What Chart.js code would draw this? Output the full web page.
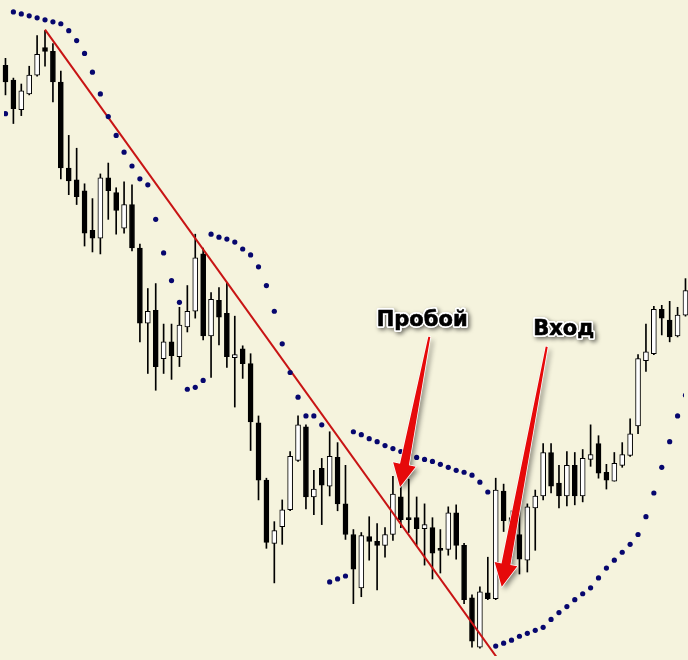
<!DOCTYPE html>
<html lang="ru">
<head>
<meta charset="utf-8">
<title>Пробой и вход</title>
<script src="https://cdn.jsdelivr.net/npm/chart.js@4.4.1/dist/chart.umd.min.js"></script>
<style>
  html, body { margin:0; padding:0; background:#f5f3dd; }
  #wrap { width:688px; height:660px; position:relative; }
</style>
</head>
<body>
<div id="wrap"><canvas id="chart"></canvas></div>
<script>
// candles, one per bar index (price in points)
const opens  = [598,583,553,569,588,616,612,581,494,482,471,431,423,484,469,433,457,413,337,350,301,318,303,333,349,407,324,360,347,302,311,296,236,178,114,131,148,198,232,161,190,172,201,154,123,69,121,116,112,123,161,140,140,129,130,109,108,145,112,59,9,64,58,167,140,123,97,150,162,206,175,162,193,162,199,215,186,177,193,203,233,299,306,351,340,324,345];
const highs  = [605,585,579,597,628,633,620,592,527,514,478,463,488,499,474,480,477,417,372,377,336,336,353,375,427,413,368,373,378,344,314,306,243,180,136,158,207,243,234,188,200,227,216,193,128,125,141,134,130,182,178,179,161,154,140,128,151,153,114,62,70,100,180,174,147,152,154,168,215,215,193,207,206,209,234,223,194,206,216,240,305,336,354,355,359,353,382];
const lows   = [568,539,547,568,587,597,561,483,467,457,415,409,407,442,427,428,410,318,286,269,286,280,293,328,342,320,282,315,292,252,281,208,158,109,74,113,147,197,149,143,133,162,147,118,53,60,97,67,100,117,130,125,112,92,78,84,102,98,53,9,8,57,57,126,100,83,85,107,158,165,150,152,153,156,192,180,169,177,191,202,225,288,305,325,318,323,344];
const closes = [581,554,572,588,609,612,581,494,481,465,428,423,484,471,451,457,413,337,349,293,318,304,335,349,403,324,361,343,303,305,296,237,178,115,127,148,202,234,161,169,173,202,154,123,88,122,116,112,123,164,138,138,129,133,104,107,145,112,57,15,65,58,168,137,115,98,151,162,206,172,162,193,162,200,204,185,178,195,204,225,301,308,351,342,323,345,370];

// parabolic SAR value per bar
const sar = [549,652,650,648,646,644,642,640,633,623,610,591,569,546,527,510,496,483,477,442,408,380,358,270,272,279,427,424,422,419,412,406,394,375,349,316,287,262,243,243,234,75,78,81,227,224,220,217,213,210,207,204,201,199,197,194,191,188,186,183,176,166,10,13,16,20,23,26,29,37,44,50,57,63,69,79,89,97,105,113,123,141,165,191,217,243,264];

// trendline anchors (bar index, price)
const trendX = [5, 63];
const trendY = [634, -11];

// annotations
const noteText  = ['Пробой', 'Вход'];
const noteX     = [52.7, 70.6];
const noteY     = [340, 330];
const arrowFromX = [53.6, 68.45];
const arrowFromY = [323, 313];
const arrowToX   = [49.9, 62.76];
const arrowToY   = [171, 70];

const BG = '#f5f3dd';
const SAR_COLOR = '#06066e';
const TREND_COLOR = '#c81414';
const LABEL_FONT = 'bold 21px "DejaVu Sans", Verdana, sans-serif';

const idx = opens.map((_, i) => i);
const bull = idx.map(i => closes[i] >= opens[i]);

function drawArrow(ctx, x0, y0, x1, y1){
  const dx = x1 - x0, dy = y1 - y0, len = Math.hypot(dx, dy);
  const ux = dx/len, uy = dy/len, nx = -uy, ny = ux;
  const headLen = 23, headW = 11.5, neckW = 4.5, tailW = 1;
  const bx = x1 - ux*headLen, by = y1 - uy*headLen;
  const pts = [
    [x0 + nx*tailW, y0 + ny*tailW],
    [bx + nx*neckW, by + ny*neckW],
    [bx + nx*headW, by + ny*headW],
    [x1, y1],
    [bx - nx*headW, by - ny*headW],
    [bx - nx*neckW, by - ny*neckW],
    [x0 - nx*tailW, y0 - ny*tailW]
  ];
  const path = () => {
    ctx.beginPath();
    pts.forEach((p, k) => k ? ctx.lineTo(p[0], p[1]) : ctx.moveTo(p[0], p[1]));
    ctx.closePath();
  };
  ctx.save();
  ctx.shadowColor = 'rgba(0,0,0,0.45)';
  ctx.shadowBlur = 5;
  ctx.shadowOffsetX = 3;
  ctx.shadowOffsetY = 3;
  path();
  ctx.fillStyle = '#e60a0a';
  ctx.fill();
  ctx.restore();
  ctx.save();
  path();
  ctx.lineJoin = 'round';
  ctx.lineWidth = 1.5;
  ctx.strokeStyle = '#ffffff';
  ctx.stroke();
  path();
  ctx.fillStyle = '#e60a0a';
  ctx.fill();
  ctx.restore();
}

function drawLabel(ctx, text, x, y){
  ctx.save();
  ctx.font = LABEL_FONT;
  ctx.textAlign = 'center';
  ctx.textBaseline = 'middle';
  ctx.lineJoin = 'round';
  // soft shadow under the white rim
  ctx.shadowColor = 'rgba(0,0,0,0.55)';
  ctx.shadowBlur = 4;
  ctx.shadowOffsetX = 2;
  ctx.shadowOffsetY = 2;
  ctx.lineWidth = 4;
  ctx.strokeStyle = '#ffffff';
  ctx.strokeText(text, x, y);
  ctx.restore();
  ctx.save();
  ctx.font = LABEL_FONT;
  ctx.textAlign = 'center';
  ctx.textBaseline = 'middle';
  ctx.lineJoin = 'round';
  ctx.lineWidth = 3.5;
  ctx.strokeStyle = '#ffffff';
  ctx.strokeText(text, x, y);
  ctx.fillStyle = '#000000';
  ctx.fillText(text, x, y);
  ctx.lineWidth = 0.6;
  ctx.strokeStyle = '#000000';
  ctx.strokeText(text, x, y);
  ctx.restore();
}

const notesPlugin = {
  id: 'notes',
  afterDatasetsDraw(chart){
    const { ctx, scales:{ x, y } } = chart;
    noteText.forEach((t, k) => {
      drawArrow(ctx,
        x.getPixelForValue(arrowFromX[k]), y.getPixelForValue(arrowFromY[k]),
        x.getPixelForValue(arrowToX[k]), y.getPixelForValue(arrowToY[k]));
      drawLabel(ctx, t, x.getPixelForValue(noteX[k]), y.getPixelForValue(noteY[k]));
    });
  }
};

const bgPlugin = {
  id: 'bg',
  beforeDraw(chart){
    const { ctx, width, height } = chart;
    ctx.save();
    ctx.fillStyle = BG;
    ctx.fillRect(0, 0, width, height);
    ctx.restore();
  }
};

new Chart(document.getElementById('chart').getContext('2d'), {
  type: 'bar',
  data: {
    datasets: [
      {
        type: 'line',
        label: 'SAR',
        data: idx.map(i => ({ x: i, y: sar[i] })),
        showLine: false,
        pointRadius: 2.6,
        pointBackgroundColor: SAR_COLOR,
        pointBorderWidth: 0,
        order: 0
      },
      {
        type: 'line',
        label: 'Trend',
        data: trendX.map((v, k) => ({ x: v, y: trendY[k] })),
        borderColor: TREND_COLOR,
        borderWidth: 2,
        pointRadius: 0,
        order: 1
      },
      {
        label: 'Body',
        data: idx.map(i => ({ x: i, y: [opens[i], closes[i]] })),
        backgroundColor: idx.map(i => bull[i] ? '#ffffff' : '#000000'),
        borderColor: '#000000',
        borderWidth: 1,
        borderSkipped: false,
        barThickness: 5,
        minBarLength: 2,
        grouped: false,
        clip: false,
        order: 2
      },
      {
        label: 'Wick',
        data: idx.map(i => ({ x: i, y: [lows[i], highs[i]] })),
        backgroundColor: '#000000',
        borderWidth: 0,
        barThickness: 1,
        grouped: false,
        clip: false,
        order: 3
      }
    ]
  },
  options: {
    animation: false,
    responsive: true,
    maintainAspectRatio: false,
    layout: { padding: 0 },
    plugins: { legend: { display: false }, tooltip: { enabled: false } },
    scales: {
      x: { type: 'linear', min: -0.1875, max: 85.8125, offset: false, display: false },
      y: { type: 'linear', min: 0, max: 660, display: false }
    }
  },
  plugins: [bgPlugin, notesPlugin]
});
</script>
</body>
</html>
